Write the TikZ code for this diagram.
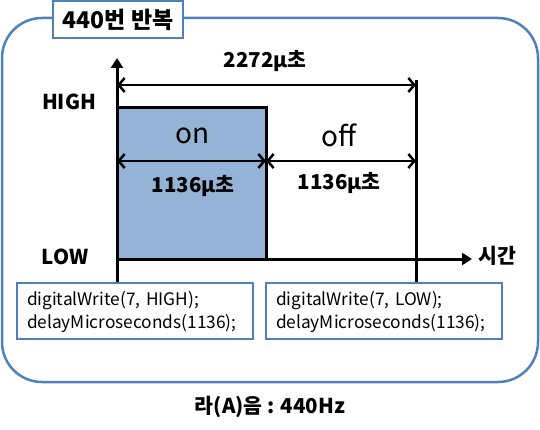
\documentclass[tikz,border=0pt]{standalone}
\usepackage{fontspec}
\setmainfont{Noto Sans CJK KR}
\usetikzlibrary{arrows.meta,positioning,calc}
\definecolor{frameblue}{HTML}{4F81BD}
\definecolor{onfill}{HTML}{95B3D7}

\begin{document}
\begin{tikzpicture}[
  x=1pt, y=-1pt,
  bold/.style={font=\fontsize{20.5}{22}\selectfont\bfseries, inner sep=0pt},
  state/.style={font=\fontsize{28}{30}\selectfont, inner sep=0pt},
  codebox/.style={draw=frameblue, line width=2pt, fill=white, anchor=north west,
    minimum width=236pt, minimum height=56pt, text width=216pt, inner xsep=0pt, inner ysep=0pt,
    align=left, font=\fontsize{17.3}{23}\selectfont},
  axis/.style={line width=3pt, -{Triangle[length=10pt, width=12pt]}},
  dim/.style={line width=2.5pt, {Straight Barb[length=6pt, width=14pt]}-{Straight Barb[length=6pt, width=14pt]}},
]
\useasboundingbox (0,0) rectangle (540,430);

% outer frame and title
\draw[frameblue, line width=2.5pt, rounded corners=40pt] (2,18) rectangle (538,382);
\node[draw=frameblue, line width=2pt, fill=white, minimum width=130pt, minimum height=37pt,
  font=\fontsize{23}{25}\selectfont\bfseries] (title) at (118,20) {440번~반복};

% axes
\coordinate (O) at (117,259);
\coordinate (ytop) at (117,58);
\coordinate (ybot) at (117,282);
\coordinate (xend) at (472,259);
\coordinate (half) at (266,259);
\coordinate (full) at (416,259);
\coordinate (fulltop) at (416,80);
\coordinate (fullbot) at (416,282);

% on pulse
\fill[onfill] (O) rectangle (266,108);
\draw[line width=3pt] (O) |- (266,108) -- (half);

\draw[axis] (ybot) -- (ytop);
\draw[axis] (O) -- (xend);
\draw[line width=3pt] (fullbot) -- (fulltop);

% dimensions
\coordinate (d1a) at (117,85);
\coordinate (d1b) at (416,85);
\coordinate (d2a) at (117,161);
\coordinate (d2b) at (266,161);
\coordinate (d2c) at (416,161);
\draw[dim] (d1a) -- (d1b);
\draw[dim] (d2a) -- (d2b);
\draw[dim] (d2b) -- (d2c);

% labels
\node[bold] (period) at (265,61) {2272μ초};
\node[bold] (high) at (69,102) {HIGH};
\node[bold] (low) at (65,257) {LOW};
\node[bold] (time) at (497,256) {시간};
\node[state] (on) at (193,136) {on};
\node[state] (off) at (339,135) {off};
\node[bold] (ton) at (193,186) {1136μ초};
\node[bold] (toff) at (339,183) {1136μ초};

% code
\node[codebox] (codeon) at (16,282) {\strut digitalWrite(7, HIGH);\\delayMicroseconds(1136);};
\node[codebox] (codeoff) at (265,282) {\strut digitalWrite(7, LOW);\\delayMicroseconds(1136);};

\node[bold] (note) at (270,407) {라(A)음 : 440Hz};
\end{tikzpicture}
\end{document}
